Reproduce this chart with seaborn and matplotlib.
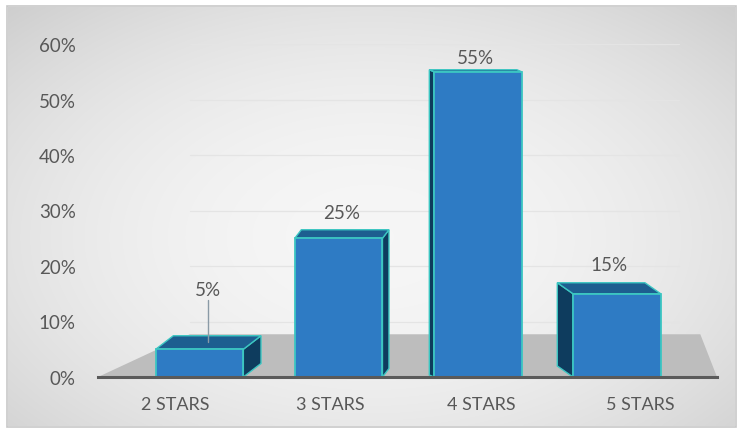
import numpy as np
import pandas as pd
import matplotlib
matplotlib.use("Agg")
import matplotlib.pyplot as plt
import matplotlib.transforms as mtransforms
import seaborn as sns
from matplotlib.patches import Polygon, Rectangle

categories = ["2 STARS", "3 STARS", "4 STARS", "5 STARS"]
values = [5, 25, 55, 15]
value_labels = ["5%", "25%", "55%", "15%"]
yticks = [0, 10, 20, 30, 40, 50, 60]
ytick_labels = ["0%", "10%", "20%", "30%", "40%", "50%", "60%"]

df = pd.DataFrame({"cat": categories, "val": values})

sns.set_theme(style="white")
plt.rcParams["font.family"] = ["Lato", "DejaVu Sans"]

W, H = 743, 435
fig = plt.figure(figsize=(W / 100, H / 100), dpi=100)
fig.patch.set_facecolor("white")

# background gradient panel with frame
bg = fig.add_axes([0, 0, 1, 1], zorder=-5)
yy, xx = np.mgrid[0:1:200j, 0:1:340j]
r = np.sqrt(((xx - 0.5) / 0.75) ** 2 + ((yy - 0.45) / 0.8) ** 2)
grad = np.clip(0.965 - 0.17 * r ** 2, 0.8, 0.97)
bg.imshow(np.dstack([grad, grad, grad]), extent=[8 / W, 735 / W, 8 / H, 427 / H],
          aspect="auto", origin="lower", interpolation="bilinear")
bg.add_patch(Rectangle((7 / W, 7 / H), 729 / W, 421 / H, fill=False,
                       edgecolor="#C8C8C8", linewidth=1.2))
bg.set_xlim(0, 1)
bg.set_ylim(0, 1)
bg.axis("off")

ax = fig.add_axes([98 / W, (H - 378) / H, (717 - 98) / W, (378 - 45) / H])
ax.set_facecolor("none")

sns.barplot(data=df, x="cat", y="val", ax=ax, color="#2E7BC4", saturation=1,
            width=0.63, edgecolor="#3CC6C2", linewidth=1.3, zorder=3)

ax.set_ylim(0, 60)
ax.set_xlim(-0.73, 3.72)

# floor
ax.add_patch(Polygon([(-0.73, 0), (3.72, 0), (3.6, 7.7), (-0.07, 7.7)],
                     closed=True, facecolor="#BDBDBD", edgecolor="none", zorder=1))

# faint gridlines on back wall
for t in yticks[1:]:
    ax.plot([-0.07, 3.45], [t, t], color="#E4E4E4", linewidth=0.9, zorder=0)

# pseudo-3D faces derived from drawn bars
fig.canvas.draw()
to_disp = ax.transData
to_data = ax.transData.inverted()
vp_x = 420.0
eye_y = 50.0
tops = []
for p in ax.patches:
    if not isinstance(p, Rectangle) or p.get_zorder() != 3:
        continue
    x0, y0 = p.get_x(), p.get_y()
    w, h = p.get_width(), p.get_height()
    (dx0, dy0) = to_disp.transform((x0, y0))
    (dx1, dy1) = to_disp.transform((x0 + w, y0 + h))
    cx_img = (dx0 + dx1) / 2
    top_img = H - dy1
    sx = (vp_x - cx_img) * 0.08
    sy = max((top_img - eye_y) * 0.045, 2.0)
    fl = (dx0, dy1)
    fr = (dx1, dy1)
    bl = (dx0 + sx, dy1 + sy)
    br = (dx1 + sx, dy1 + sy)
    top_poly = [fl, fr, br, bl]
    ax.add_patch(Polygon(to_data.transform(top_poly), closed=True,
                         facecolor="#1D5E90", edgecolor="#3CC6C2", linewidth=1.0,
                         zorder=2.9))
    if sx > 0:
        side = [(dx1, dy0), (dx1, dy1), (dx1 + sx, dy1 + sy), (dx1 + sx, dy0 + sy)]
    else:
        side = [(dx0, dy0), (dx0, dy1), (dx0 + sx, dy1 + sy), (dx0 + sx, dy0 + sy)]
    ax.add_patch(Polygon(to_data.transform(side), closed=True,
                         facecolor="#0E3C5E", edgecolor="#3CC6C2", linewidth=1.0,
                         zorder=2.8))
    tops.append(((dx0 + dx1) / 2 + sx / 2, dy1 + sy / 2, dy1 + sy))

label_gap = [38, 9, 4, 10]
for (cx, cy, ty), lab, gap in zip(tops, value_labels, label_gap):
    tx, tyd = to_data.transform((cx, ty + gap))
    ax.text(tx, tyd, lab, ha="center", va="bottom", fontsize=13.5,
            color="#585858", zorder=5)
    if gap > 30:
        a = to_data.transform((cx, cy))
        b = to_data.transform((cx, ty + gap - 2))
        ax.plot([a[0], b[0]], [a[1], b[1]], color="#8A9AA6", linewidth=1, zorder=4)

ax.set_yticks(yticks)
ax.set_yticklabels(ytick_labels, fontsize=13.5, color="#585858")
ax.tick_params(axis="y", length=0, pad=16)
ax.tick_params(axis="x", length=0, pad=14, labelsize=13, labelcolor="#585858")

# perspective shift of category labels
label_shift_px = [-24, -8, 4, 23]
for lbl, s in zip(ax.get_xticklabels(), label_shift_px):
    lbl.set_transform(lbl.get_transform() +
                      mtransforms.ScaledTranslation(s / 100, 0, fig.dpi_scale_trans))

ax.set_xlabel("")
ax.set_ylabel("")
for s in ["top", "right", "left"]:
    ax.spines[s].set_visible(False)
ax.spines["bottom"].set_color("#5A5A5A")
ax.spines["bottom"].set_linewidth(2.2)
ax.spines["bottom"].set_zorder(6)
ax.grid(False)

fig.savefig("out.png", dpi=100)
